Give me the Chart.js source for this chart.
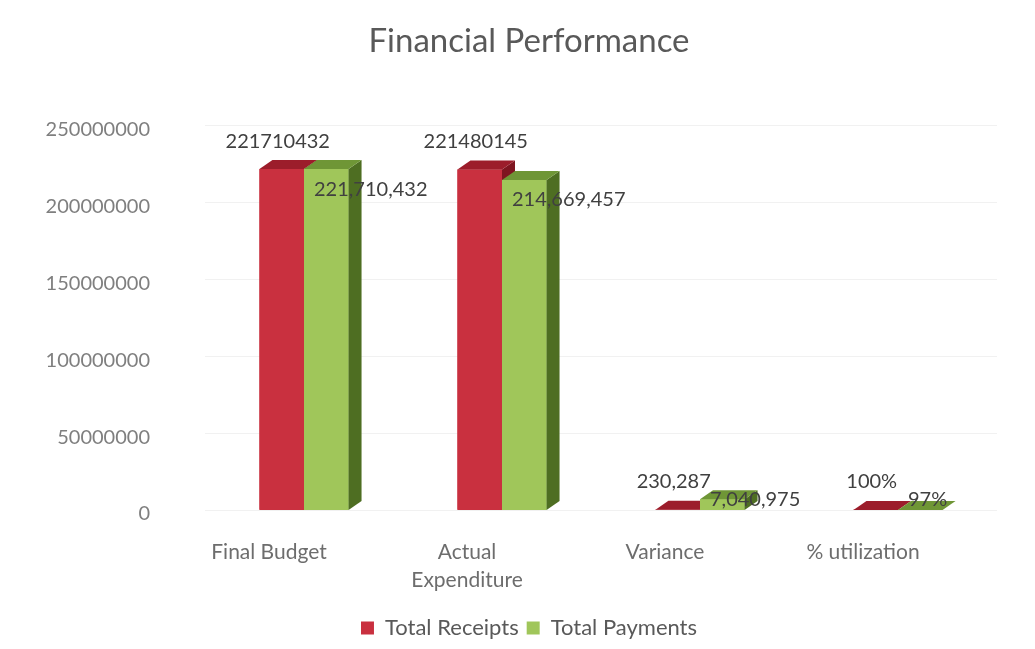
<!DOCTYPE html>
<html>
<head>
<meta charset="utf-8">
<script src="https://cdn.jsdelivr.net/npm/chart.js@4.4.1/dist/chart.umd.min.js"></script>
<style>
  html, body { margin: 0; padding: 0; background: #fff; }
  #wrap { width: 1035px; height: 649px; position: relative; }
</style>
</head>
<body>
<div id="wrap"><canvas id="finChart"></canvas></div>
<script>
var categories = ["Final Budget", ["Actual", "Expenditure"], "Variance", "% utilization"];
var totalReceipts = [221710432, 221480145, 230287, 100];
var totalPayments = [221710432, 214669457, 7040975, 97];
var yTicks = [0, 50000000, 100000000, 150000000, 200000000, 250000000];

// 3D look: depth offset of the top/side faces
var DX = 13, DY = 9;
var faces = [
  { front: "#c9303f", side: "#7e1520", top: "#9c1d2b" },
  { front: "#a0c65a", side: "#4e6e22", top: "#6f9636" }
];

function isPercent(i) {
  return categories[i] === "% utilization";
}

function fmt(v, i, grouped) {
  var s = grouped ? v.toLocaleString("en-US") : String(v);
  return isPercent(i) ? s + "%" : s;
}

function poly(ctx, pts, color) {
  ctx.beginPath();
  ctx.moveTo(pts[0][0], pts[0][1]);
  for (var k = 1; k < pts.length; k++) ctx.lineTo(pts[k][0], pts[k][1]);
  ctx.closePath();
  ctx.fillStyle = color;
  ctx.fill();
}

var bar3d = {
  id: "bar3d",
  afterDatasetsDraw: function (chart) {
    var ctx = chart.ctx;
    var base = chart.scales.y.getPixelForValue(0);
    ctx.save();
    chart.data.datasets.forEach(function (ds, i) {
      var f = faces[i];
      chart.getDatasetMeta(i).data.forEach(function (bar) {
        var x0 = bar.x - bar.width / 2, x1 = bar.x + bar.width / 2, y = bar.y;
        poly(ctx, [[x0, y], [x1, y], [x1, base], [x0, base]], f.front);
        poly(ctx, [[x1, y], [x1 + DX, y - DY], [x1 + DX, base - DY], [x1, base]], f.side);
        poly(ctx, [[x0, y], [x1, y], [x1 + DX, y - DY], [x0 + DX, y - DY]], f.top);
      });
    });

    // value labels
    ctx.font = "20px Lato";
    ctx.fillStyle = "#404040";
    ctx.textBaseline = "middle";
    var red = chart.getDatasetMeta(0).data;
    var green = chart.getDatasetMeta(1).data;
    red.forEach(function (bar, i) {
      ctx.textAlign = "center";
      ctx.fillText(fmt(totalReceipts[i], i, i >= 2), bar.x - 4, Math.min(bar.y, base) - 28);
    });
    green.forEach(function (bar, i) {
      ctx.textAlign = "left";
      var x = bar.x - bar.width / 2 + 10;
      var y = Math.min(bar.y + 20, base - 10);
      ctx.fillText(fmt(totalPayments[i], i, true), x, y);
    });

    // y tick labels (drawn here so they are not clipped by the axis box)
    var ys = chart.scales.y;
    ctx.font = "20px Lato";
    ctx.fillStyle = "#7f7f7f";
    ctx.textAlign = "right";
    ys.ticks.forEach(function (t) {
      ctx.fillText(String(t.value), chart.chartArea.left - 55, ys.getPixelForValue(t.value) + 4);
    });
    ctx.restore();
  }
};

var ctx = document.getElementById("finChart").getContext("2d");

var myChart = new Chart(ctx, {
  type: "bar",
  data: {
    labels: categories,
    datasets: [{
        label: "Total Receipts",
        backgroundColor: "#c9303f",
        data: totalReceipts
      },
      {
        label: "Total Payments",
        backgroundColor: "#a0c65a",
        data: totalPayments
      }
    ]
  },
  options: {
    responsive: true,
    maintainAspectRatio: false,
    animation: false,
    layout: {
      padding: { left: 61, right: 38, top: 0, bottom: 0 }
    },
    datasets: {
      bar: {
        barPercentage: 1,
        categoryPercentage: 0.45
      }
    },
    scales: {
      x: {
        grid: { display: false },
        border: { display: false },
        ticks: {
          color: "#6d6d6d",
          font: { family: "Lato", size: 21, lineHeight: 1.35 },
          padding: 20,
          labelOffset: -35,
          maxRotation: 0
        },
        afterFit: function (s) { s.height = 99; }
      },
      y: {
        min: 0,
        max: 250000000,
        afterBuildTicks: function (s) {
          s.ticks = yTicks.map(function (v) { return { value: v }; });
        },
        grid: { color: "#f1f1f1", drawTicks: false },
        border: { display: false },
        ticks: { display: false },
        afterFit: function (s) { s.width = 144; }
      }
    },
    plugins: {
      title: {
        display: true,
        text: "Financial Performance",
        color: "#595959",
        font: { family: "Lato", size: 33, weight: "normal" },
        padding: { top: 22, bottom: 64 }
      },
      legend: {
        display: true,
        position: "bottom",
        labels: {
          color: "#595959",
          font: { family: "Lato", size: 22 },
          boxWidth: 13,
          boxHeight: 13,
          padding: 8
        }
      },
      tooltip: { enabled: false }
    }
  },
  plugins: [bar3d]
});
</script>
</body>
</html>
